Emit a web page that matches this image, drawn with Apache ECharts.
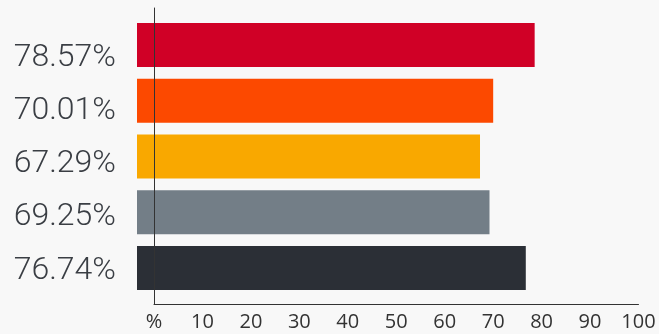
<!DOCTYPE html>
<html>
<head>
<meta charset="utf-8">
<script src="https://cdn.jsdelivr.net/npm/echarts@6/dist/echarts.min.js"></script>
<style>
  html, body { margin: 0; padding: 0; background: #f8f8f8; }
  #chart { width: 659px; height: 334px; }
</style>
</head>
<body>
<div id="chart"></div>
<script>
// Share values, top to bottom
const values = [78.57, 70.01, 67.29, 69.25, 76.74];
const barColors = ['#d00026', '#fc4900', '#f9a800', '#737e87', '#2b2f36'];
const categories = values.map(v => v.toFixed(2) + '%');
const xTicks = [0, 10, 20, 30, 40, 50, 60, 70, 80, 90, 100];

// Bars start a little left of the zero line
const BAR_START = -3.5;
const BAR_HEIGHT = 44;

const chart = echarts.init(document.getElementById('chart'));

chart.setOption({
  backgroundColor: '#f8f8f8',
  animation: false,
  grid: [
    // 0: visible axes (zero line + percentage scale)
    { left: 154, right: 20.5, top: 8, bottom: 30 },
    // 1: bars
    { left: 137, right: 20.5, top: 17.1, height: 278.75 },
    // 2: value labels on the left
    { left: 137, right: 20.5, top: 31, height: 266.25 }
  ],
  xAxis: [
    {
      gridIndex: 0, type: 'value', min: xTicks[0], max: xTicks[xTicks.length - 1], interval: 10,
      z: 10,
      splitLine: { show: false },
      axisTick: { show: false },
      axisLine: { show: true, lineStyle: { color: '#333', width: 1 } },
      axisLabel: {
        margin: 8,
        fontFamily: 'Open Sans', fontSize: 20, color: '#333',
        formatter: v => (v === 0 ? '%' : String(v))
      }
    },
    { gridIndex: 1, type: 'value', min: BAR_START, max: 100, show: false },
    { gridIndex: 2, type: 'value', min: 0, max: 100, show: false }
  ],
  yAxis: [
    {
      gridIndex: 0, type: 'value', min: 0, max: 1,
      z: 10,
      splitLine: { show: false },
      axisTick: { show: false },
      axisLabel: { show: false },
      axisLine: { show: true, onZero: false, lineStyle: { color: '#333', width: 1 } }
    },
    {
      gridIndex: 1, type: 'category', data: categories, inverse: true, show: false
    },
    {
      gridIndex: 2, type: 'category', data: categories, inverse: true,
      axisLine: { show: false },
      axisTick: { show: false },
      splitLine: { show: false },
      axisLabel: {
        margin: 21,
        fontFamily: 'Roboto', fontWeight: 300, fontSize: 32, color: '#3a3e44'
      }
    }
  ],
  series: [
    {
      type: 'custom',
      xAxisIndex: 1, yAxisIndex: 1,
      z: 2,
      data: values.map((v, i) => [v, i]),
      encode: { x: 0, y: 1 },
      renderItem: function (params, api) {
        const idx = api.value(1);
        const end = api.coord([api.value(0), idx]);
        const start = api.coord([BAR_START, idx]);
        return {
          type: 'rect',
          shape: {
            x: start[0],
            y: end[1] - BAR_HEIGHT / 2,
            width: end[0] - start[0],
            height: BAR_HEIGHT
          },
          style: { fill: barColors[params.dataIndex] }
        };
      }
    }
  ]
});
</script>
</body>
</html>
